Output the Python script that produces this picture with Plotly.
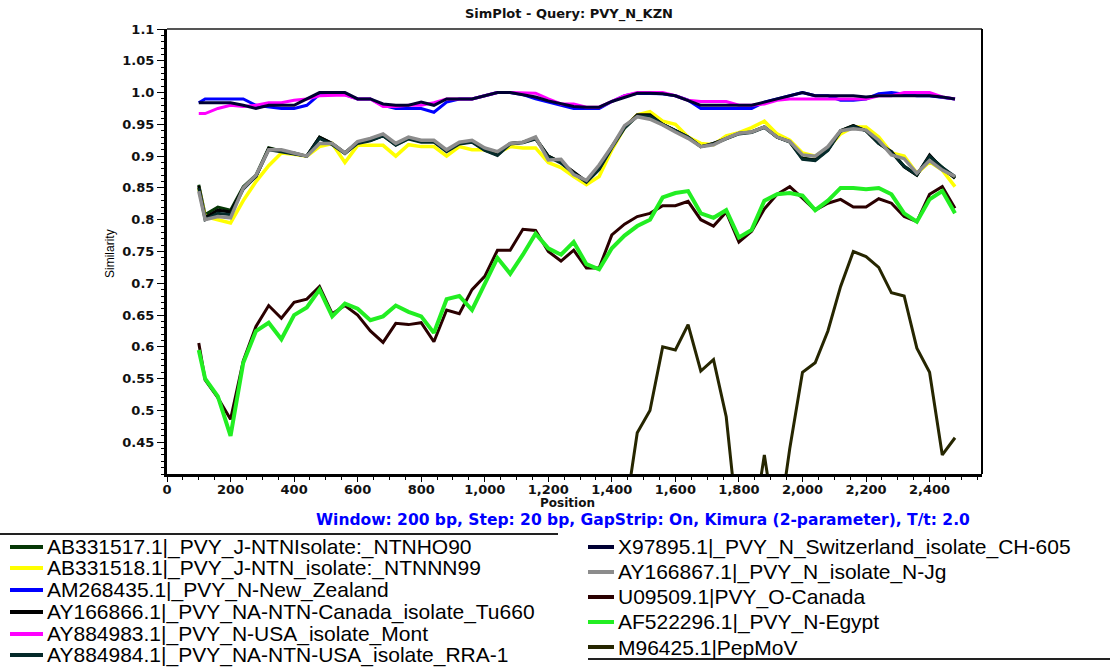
import plotly.graph_objects as go

# ---------------- data ----------------
POSITION = [100, 120, 160, 200, 240, 280, 320, 360, 400, 440, 480, 520, 560, 600, 640,
            680, 720, 760, 800, 840, 880, 920, 960, 1000, 1040, 1080, 1120, 1160, 1200,
            1240, 1280, 1320, 1360, 1400, 1440, 1480, 1520, 1560, 1600, 1640, 1680, 1720,
            1760, 1800, 1840, 1880, 1920, 1960, 2000, 2040, 2080, 2120, 2160, 2200, 2240,
            2280, 2320, 2360, 2400, 2440, 2480]

AB331517 = [0.855, 0.808, 0.82, 0.815, 0.852, 0.87, 0.913, 0.908, 0.905, 0.90, 0.93, 0.92, 0.905,
            0.922, 0.925, 0.932, 0.918, 0.928, 0.923, 0.923, 0.908, 0.92, 0.923, 0.91, 0.902,
            0.92, 0.922, 0.928, 0.90, 0.89, 0.874, 0.86, 0.88, 0.914, 0.945, 0.964, 0.963,
            0.95, 0.94, 0.93, 0.915, 0.92, 0.928, 0.936, 0.938, 0.946, 0.93, 0.923, 0.897,
            0.894, 0.91, 0.94, 0.948, 0.94, 0.92, 0.907, 0.884, 0.87, 0.9, 0.882, 0.865]
AB331518 = [0.85, 0.805, 0.80, 0.795, 0.83, 0.86, 0.885, 0.905, 0.903, 0.90, 0.915, 0.92, 0.89,
            0.917, 0.917, 0.917, 0.90, 0.918, 0.915, 0.915, 0.90, 0.915, 0.91, 0.91, 0.905,
            0.915, 0.913, 0.913, 0.89, 0.882, 0.868, 0.855, 0.868, 0.91, 0.945, 0.965, 0.97,
            0.955, 0.95, 0.93, 0.92, 0.918, 0.932, 0.937, 0.945, 0.955, 0.935, 0.925, 0.905,
            0.90, 0.913, 0.935, 0.946, 0.946, 0.93, 0.905, 0.90, 0.873, 0.891, 0.878, 0.852]
AM268435 = [0.984, 0.99, 0.99, 0.99, 0.99, 0.98, 0.977, 0.975, 0.975, 0.98, 0.997, 0.997, 0.997,
            0.99, 0.99, 0.98, 0.975, 0.975, 0.975, 0.969, 0.985, 0.99, 0.99, 0.995, 1.0,
            1.0, 0.997, 0.99, 0.985, 0.98, 0.975, 0.975, 0.975, 0.986, 0.995, 0.999, 0.999,
            0.998, 0.995, 0.988, 0.975, 0.975, 0.975, 0.975, 0.975, 0.985, 0.99, 0.995, 1.0,
            0.995, 0.995, 0.988, 0.988, 0.99, 0.998, 1.0, 0.998, 0.995, 0.995, 0.993, 0.99]
AY166866 = [0.853, 0.803, 0.815, 0.812, 0.85, 0.868, 0.912, 0.908, 0.905, 0.90, 0.93, 0.92, 0.905,
            0.922, 0.925, 0.933, 0.918, 0.928, 0.923, 0.923, 0.908, 0.92, 0.923, 0.91, 0.902,
            0.92, 0.922, 0.928, 0.90, 0.89, 0.875, 0.86, 0.88, 0.915, 0.945, 0.965, 0.965,
            0.95, 0.94, 0.93, 0.915, 0.92, 0.928, 0.936, 0.938, 0.946, 0.93, 0.923, 0.896,
            0.894, 0.91, 0.94, 0.948, 0.94, 0.92, 0.907, 0.883, 0.87, 0.902, 0.88, 0.866]
AY884983 = [0.967, 0.967, 0.975, 0.98, 0.978, 0.98, 0.984, 0.984, 0.988, 0.99, 0.995, 0.996, 0.996,
            0.99, 0.99, 0.978, 0.978, 0.98, 0.98, 0.984, 0.99, 0.99, 0.99, 0.995, 1.0,
            1.0, 1.0, 0.999, 0.99, 0.982, 0.982, 0.977, 0.977, 0.986, 0.995, 1.0, 1.0,
            1.0, 0.995, 0.988, 0.986, 0.986, 0.986, 0.98, 0.98, 0.982, 0.988, 0.99, 0.99,
            0.99, 0.99, 0.99, 0.99, 0.99, 0.995, 0.995, 1.0, 1.0, 1.0, 0.993, 0.99]
AY884984 = [0.85, 0.80, 0.81, 0.808, 0.848, 0.868, 0.91, 0.907, 0.904, 0.90, 0.928, 0.918, 0.904,
            0.92, 0.924, 0.932, 0.917, 0.927, 0.922, 0.922, 0.907, 0.919, 0.922, 0.909, 0.901,
            0.919, 0.921, 0.927, 0.899, 0.889, 0.873, 0.859, 0.879, 0.913, 0.944, 0.963, 0.963,
            0.95, 0.94, 0.93, 0.915, 0.919, 0.927, 0.935, 0.937, 0.945, 0.93, 0.922, 0.895,
            0.893, 0.909, 0.939, 0.947, 0.94, 0.92, 0.906, 0.884, 0.871, 0.9, 0.882, 0.868]
X97895 = [0.984, 0.984, 0.984, 0.984, 0.98, 0.975, 0.98, 0.98, 0.98, 0.99, 1.0, 1.0, 1.0,
          0.99, 0.99, 0.982, 0.98, 0.98, 0.985, 0.98, 0.99, 0.99, 0.99, 0.995, 1.0,
          1.0, 0.997, 0.993, 0.987, 0.982, 0.978, 0.977, 0.977, 0.986, 0.993, 0.999, 0.999,
          0.998, 0.995, 0.988, 0.98, 0.98, 0.98, 0.98, 0.98, 0.985, 0.99, 0.995, 1.0,
          0.995, 0.995, 0.995, 0.995, 0.993, 0.995, 0.995, 0.995, 0.995, 0.995, 0.993, 0.99]
AY166867 = [0.845, 0.80, 0.805, 0.803, 0.85, 0.87, 0.91, 0.91, 0.905, 0.90, 0.92, 0.92, 0.905,
            0.923, 0.928, 0.935, 0.92, 0.93, 0.925, 0.925, 0.91, 0.922, 0.925, 0.913, 0.907,
            0.92, 0.922, 0.93, 0.894, 0.895, 0.871, 0.862, 0.886, 0.915, 0.948, 0.962, 0.958,
            0.949, 0.938, 0.928, 0.915, 0.918, 0.928, 0.936, 0.938, 0.946, 0.93, 0.923, 0.902,
            0.90, 0.915, 0.94, 0.943, 0.941, 0.925, 0.902, 0.896, 0.873, 0.893, 0.878, 0.868]
U09509 = [0.606, 0.548, 0.52, 0.486, 0.578, 0.632, 0.665, 0.645, 0.67, 0.675, 0.695, 0.652, 0.665,
          0.65, 0.625, 0.607, 0.637, 0.635, 0.638, 0.608, 0.658, 0.652, 0.69, 0.711, 0.752,
          0.752, 0.785, 0.783, 0.75, 0.735, 0.752, 0.724, 0.724, 0.776, 0.793, 0.805, 0.81,
          0.822, 0.822, 0.829, 0.80, 0.79, 0.812, 0.765, 0.782, 0.817, 0.84, 0.852, 0.834,
          0.815, 0.826, 0.832, 0.82, 0.82, 0.833, 0.826, 0.805, 0.797, 0.84, 0.852, 0.818]
AF522296 = [0.595, 0.55, 0.522, 0.46, 0.575, 0.625, 0.638, 0.612, 0.65, 0.662, 0.69, 0.648, 0.668,
            0.66, 0.642, 0.648, 0.665, 0.655, 0.648, 0.622, 0.675, 0.68, 0.658, 0.70, 0.74,
            0.715, 0.745, 0.778, 0.755, 0.745, 0.765, 0.73, 0.722, 0.755, 0.775, 0.79, 0.80,
            0.835, 0.842, 0.845, 0.81, 0.803, 0.815, 0.772, 0.784, 0.83, 0.84, 0.842, 0.838,
            0.815, 0.83, 0.85, 0.85, 0.848, 0.85, 0.84, 0.81, 0.797, 0.832, 0.845, 0.81]
M96425 = [0.3, 0.3, 0.3, 0.3, 0.3, 0.3, 0.3, 0.3, 0.3, 0.3, 0.3, 0.3, 0.3,
          0.3, 0.3, 0.3, 0.3, 0.3, 0.3, 0.3, 0.3, 0.3, 0.3, 0.3, 0.3,
          0.3, 0.3, 0.3, 0.3, 0.3, 0.3, 0.3, 0.3, 0.3, 0.33, 0.465, 0.50,
          0.60, 0.595, 0.635, 0.562, 0.58, 0.49, 0.3, 0.3, 0.43, 0.3, 0.44, 0.56,
          0.575, 0.625, 0.695, 0.75, 0.742, 0.725, 0.685, 0.68, 0.598, 0.56, 0.43, 0.457]

SERIES_NAMES = ["AB331517.1|_PVY_J-NTNIsolate:_NTNHO90",
                "AB331518.1|_PVY_J-NTN_isolate:_NTNNN99",
                "AM268435.1|_PVY_N-New_Zealand",
                "AY166866.1|_PVY_NA-NTN-Canada_isolate_Tu660",
                "AY884983.1|_PVY_N-USA_isolate_Mont",
                "AY884984.1|_PVY_NA-NTN-USA_isolate_RRA-1",
                "X97895.1|_PVY_N_Switzerland_isolate_CH-605",
                "AY166867.1|_PVY_N_isolate_N-Jg",
                "U09509.1|PVY_O-Canada",
                "AF522296.1|_PVY_N-Egypt",
                "M96425.1|PepMoV"]
SERIES_VALUES = [AB331517, AB331518, AM268435, AY166866, AY884983, AY884984,
                 X97895, AY166867, U09509, AF522296, M96425]
SERIES_COLORS = ["#063806", "#FFFF00", "#0000FF", "#000000", "#FF00FF", "#042a2a",
                 "#000033", "#8c8c8c", "#2a0000", "#22EE22", "#262600"]
SERIES_WIDTHS = [3, 3.5, 3, 3, 3, 3, 3, 3.5, 3, 4, 3]

Y_TICKS = [0.45, 0.5, 0.55, 0.6, 0.65, 0.7, 0.75, 0.8, 0.85, 0.9, 0.95, 1.0, 1.05, 1.1]
Y_TICK_TEXT = ["0.45", "0.5", "0.55", "0.6", "0.65", "0.7", "0.75", "0.8", "0.85", "0.9",
               "0.95", "1.0", "1.05", "1.1"]
X_TICKS = [0, 200, 400, 600, 800, 1000, 1200, 1400, 1600, 1800, 2000, 2200, 2400]
X_TICK_TEXT = ["0", "200", "400", "600", "800", "1,000", "1,200", "1,400", "1,600",
               "1,800", "2,000", "2,200", "2,400"]

# ---------------- layout geometry (pixels) ----------------
W, H = 1110, 667
L, R, T, B = 167, 982, 29, 474


def px(x):
    return (x - L) / (R - L)


def py(y):
    return (B - y) / (B - T)


fig = go.Figure()
for name, vals, col, wd in zip(SERIES_NAMES, SERIES_VALUES, SERIES_COLORS, SERIES_WIDTHS):
    fig.add_trace(go.Scatter(x=POSITION, y=vals, mode="lines", name=name,
                             line=dict(color=col, width=wd), showlegend=False,
                             cliponaxis=True))

tickfont = dict(family="DejaVu Sans", size=13, color="#111111", weight="bold")

fig.update_layout(
    width=W, height=H,
    margin=dict(l=L, r=W - R, t=T, b=H - B, pad=0),
    plot_bgcolor="white", paper_bgcolor="white",
    showlegend=False,
    xaxis=dict(range=[0, 2565], showgrid=False, zeroline=False, showline=True,
               linecolor="black", linewidth=3, ticks="outside", ticklen=5, tickwidth=1,
               tickcolor="black", tickmode="array", tickvals=X_TICKS, ticktext=X_TICK_TEXT,
               tickfont=tickfont, automargin=False, ticklabelstandoff=-4,
               minor=dict(tickmode="linear", tick0=0, dtick=50, ticks="outside",
                          ticklen=3, tickcolor="black", showgrid=False)),
    yaxis=dict(range=[0.4, 1.1], showgrid=False, zeroline=False, showline=True,
               linecolor="black", linewidth=3, ticks="outside", ticklen=7, tickwidth=1,
               tickcolor="black", tickmode="array", tickvals=Y_TICKS, ticktext=Y_TICK_TEXT,
               tickfont=tickfont, automargin=False,
               minor=dict(tickmode="linear", tick0=0.4, dtick=0.01, ticks="outside",
                          ticklen=3, tickcolor="black", showgrid=False)),
)

shapes = [
    dict(type="line", xref="paper", yref="paper", x0=0, x1=1, y0=1, y1=1,
         line=dict(color="#555555", width=2)),
    dict(type="line", xref="paper", yref="paper", x0=1, x1=1, y0=0, y1=1,
         line=dict(color="#000000", width=2)),
    dict(type="line", xref="paper", yref="paper", x0=px(0), x1=px(558), y0=py(534), y1=py(534),
         line=dict(color="#222222", width=2)),
    dict(type="line", xref="paper", yref="paper", x0=px(588), x1=px(1110), y0=py(659), y1=py(659),
         line=dict(color="#222222", width=2)),
]

annotations = [
    dict(text="SimPlot - Query: PVY_N_KZN", x=px(569), y=py(14), xref="paper", yref="paper",
         showarrow=False, xanchor="center", yanchor="middle",
         font=dict(family="DejaVu Sans", size=13, color="#111111", weight="bold")),
    dict(text="Position", x=px(567), y=py(503), xref="paper", yref="paper",
         showarrow=False, xanchor="center", yanchor="middle",
         font=dict(family="DejaVu Sans", size=12, color="#111111", weight="bold")),
    dict(text="Window: 200 bp, Step: 20 bp, GapStrip: On, Kimura (2-parameter), T/t: 2.0",
         x=px(643), y=py(520), xref="paper", yref="paper",
         showarrow=False, xanchor="center", yanchor="middle",
         font=dict(family="DejaVu Sans", size=15.5, color="#0000FF", weight="bold")),
    dict(text="Similarity", x=px(110), y=py(254), xref="paper", yref="paper",
         showarrow=False, xanchor="center", yanchor="middle", textangle=-90,
         font=dict(family="Liberation Sans, Arial", size=12, color="#000000")),
]

# legend drawn as shapes + annotations (two columns)
LEFT_ROWS = [547, 568, 590, 612, 634, 655]
RIGHT_ROWS = [547, 572, 597, 622, 647]
for i, (name, col) in enumerate(zip(SERIES_NAMES, SERIES_COLORS)):
    if i < 6:
        yrow, x0, x1, xt = LEFT_ROWS[i], 10, 43, 45
    else:
        yrow, x0, x1, xt = RIGHT_ROWS[i - 6], 588, 614, 616
    shapes.append(dict(type="line", xref="paper", yref="paper", x0=px(x0), x1=px(x1),
                       y0=py(yrow), y1=py(yrow), line=dict(color=col, width=4)))
    annotations.append(dict(text=name, x=px(xt), y=py(yrow), xref="paper", yref="paper",
                            showarrow=False, xanchor="left", yanchor="middle",
                            font=dict(family="Liberation Sans, Arial", size=21,
                                      color="#000000")))

fig.update_layout(shapes=shapes, annotations=annotations)
fig.write_html("out.html", config={"displayModeBar": False},
               post_script="document.body.style.margin='0px';")
